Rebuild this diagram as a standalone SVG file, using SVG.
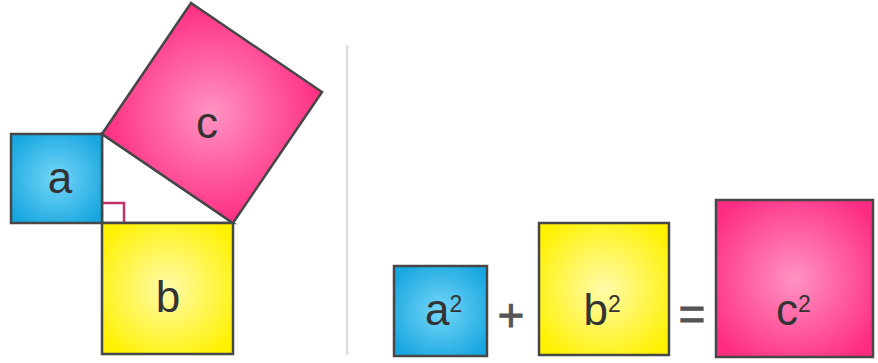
<svg xmlns="http://www.w3.org/2000/svg" width="878" height="363" viewBox="0 0 878 363">
  <style>
    .sq { stroke: #474747; stroke-width: 2.5; stroke-linejoin: miter; }
    .lbl { font-family: "Liberation Sans", Arial, sans-serif; font-size: 44px; fill: #333333; }
    .sup { font-size: 23px; }
    .op { font-family: "Liberation Sans", Arial, sans-serif; font-size: 46px; fill: #555555; stroke: #555555; stroke-width: 0.8; text-anchor: middle; }
  </style>
  <defs>
    <radialGradient id="gBlue" cx="0.5" cy="0.5" r="0.62">
      <stop offset="0" stop-color="#74d6f8"/>
      <stop offset="1" stop-color="#17a6df"/>
    </radialGradient>
    <radialGradient id="gYellow" cx="0.5" cy="0.5" r="0.62">
      <stop offset="0" stop-color="#fffbaa"/>
      <stop offset="1" stop-color="#fff100"/>
    </radialGradient>
    <radialGradient id="gPink" cx="0.5" cy="0.5" r="0.62">
      <stop offset="0" stop-color="#ff93c2"/>
      <stop offset="1" stop-color="#ff2c82"/>
    </radialGradient>
    <radialGradient id="gPinkRot" gradientUnits="userSpaceOnUse" cx="212" cy="113" r="112">
      <stop offset="0" stop-color="#ff93c2"/>
      <stop offset="1" stop-color="#ff2c82"/>
    </radialGradient>
  </defs>

  <g id="triangle">
    <polygon points="102,134 233,223 102,223" fill="#ffffff" class="sq"/>
    <path id="right-angle" d="M102,203 H124 V223" fill="none" stroke="#c2306e" stroke-width="2.5"/>
  </g>

  <g id="square-a">
    <rect x="11" y="134" width="91" height="89" fill="url(#gBlue)" class="sq"/>
    <text class="lbl" x="60" y="193" text-anchor="middle">a</text>
  </g>

  <g id="square-b">
    <rect x="102" y="223" width="131" height="131" fill="url(#gYellow)" class="sq"/>
    <text class="lbl" x="168" y="312" text-anchor="middle">b</text>
  </g>

  <g id="square-c">
    <polygon points="102,134 233,223 322,92 191,3" fill="url(#gPinkRot)" class="sq"/>
    <text class="lbl" x="207" y="138" text-anchor="middle">c</text>
  </g>

  <g id="connectors">
    <line id="divider" x1="347" y1="45" x2="347" y2="355" stroke="#dddddd" stroke-width="2.5"/>
  </g>

  <g id="term-a2">
    <rect x="394" y="266" width="93" height="90" fill="url(#gBlue)" class="sq"/>
    <text class="lbl" x="425" y="325">a<tspan class="sup" dy="-13">2</tspan></text>
  </g>

  <g id="plus">
    <text class="op" x="511" y="331">+</text>
  </g>

  <g id="term-b2">
    <rect x="539" y="223" width="130" height="132" fill="url(#gYellow)" class="sq"/>
    <text class="lbl" x="583.5" y="325">b<tspan class="sup" dy="-13">2</tspan></text>
  </g>

  <g id="equals">
    <text class="op" x="692" y="330">=</text>
  </g>

  <g id="term-c2">
    <rect x="716" y="200" width="157" height="157" fill="url(#gPink)" class="sq"/>
    <text class="lbl" x="776" y="325">c<tspan class="sup" dy="-13">2</tspan></text>
  </g>
</svg>
